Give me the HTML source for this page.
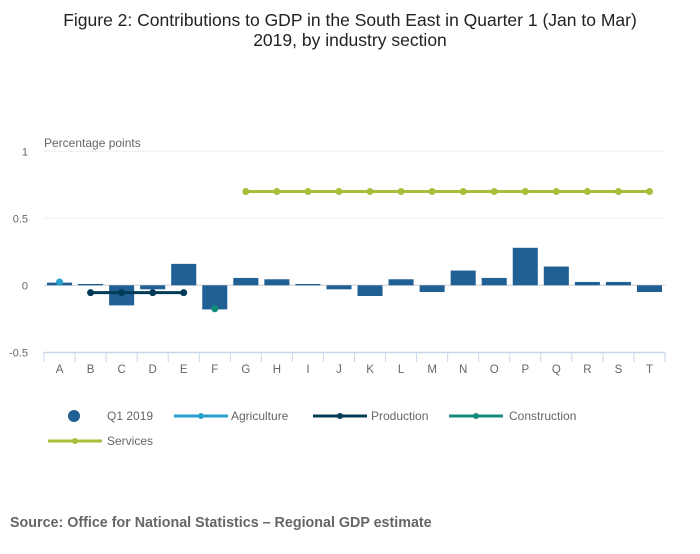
<!DOCTYPE html>
<html><head><meta charset="utf-8"><style>
body{margin:0;background:#fff;font-family:"Liberation Sans",sans-serif}
svg text{font-family:"Liberation Sans",sans-serif}
</style></head><body>
<svg id="chart" width="700" height="549" xmlns="http://www.w3.org/2000/svg">
<text x="350" y="26" text-anchor="middle" font-size="17.5" fill="#222">Figure 2: Contributions to GDP in the South East in Quarter 1 (Jan to Mar)</text>
<text x="350" y="46" text-anchor="middle" font-size="17.5" fill="#222">2019, by industry section</text>
<text x="44" y="147" font-size="12" fill="#666">Percentage points</text>
<g id="grid"></g><g id="bars"></g><g id="lines"></g><g id="xaxis"></g>
<g font-size="12" fill="#666">
<circle cx="74" cy="416" r="6" fill="#206095"/>
<text x="107" y="420">Q1 2019</text>
<line x1="174" y1="416" x2="228" y2="416" stroke="#27a0cc" stroke-width="3"/><circle cx="201" cy="416" r="3" fill="#27a0cc"/>
<text x="231" y="420">Agriculture</text>
<line x1="313" y1="416" x2="367" y2="416" stroke="#003c57" stroke-width="3"/><circle cx="340" cy="416" r="3" fill="#003c57"/>
<text x="371" y="420">Production</text>
<line x1="449" y1="416" x2="503" y2="416" stroke="#118c7b" stroke-width="3"/><circle cx="476" cy="416" r="3" fill="#118c7b"/>
<text x="509" y="420">Construction</text>
<line x1="48" y1="441" x2="102" y2="441" stroke="#a8bd3a" stroke-width="3"/><circle cx="75" cy="441" r="3" fill="#a8bd3a"/>
<text x="107" y="445">Services</text>
</g>
<text x="10" y="527" font-size="14.3" font-weight="bold" fill="#666">Source: Office for National Statistics – Regional GDP estimate</text>
</svg>
<script>
const categories=["A","B","C","D","E","F","G","H","I","J","K","L","M","N","O","P","Q","R","S","T"];
const q1Values=[0.02,0.01,-0.15,-0.03,0.16,-0.18,0.055,0.045,0.01,-0.03,-0.08,0.045,-0.05,0.11,0.055,0.28,0.14,0.025,0.025,-0.05];
const agricultureValues=[0.025];
const agricultureCats=["A"];
const productionValues=[-0.055,-0.055,-0.055,-0.055];
const productionCats=["B","C","D","E"];
const constructionValues=[-0.175];
const constructionCats=["F"];
const servicesValues=[0.7,0.7,0.7,0.7,0.7,0.7,0.7,0.7,0.7,0.7,0.7,0.7,0.7,0.7];
const servicesCats=["G","H","I","J","K","L","M","N","O","P","Q","R","S","T"];
const yTicks=[1,0.5,0,-0.5];
const yTickLabels=["1","0.5","0","-0.5"];
const NS="http://www.w3.org/2000/svg";
const x0=44,x1=665,bw=(x1-x0)/categories.length;
const y=v=>285.3-v*134;
const xc=c=>x0+bw*(categories.indexOf(c)+0.5);
function mk(t,a,p){const e=document.createElementNS(NS,t);for(const k in a)e.setAttribute(k,a[k]);p.appendChild(e);return e;}
const grid=document.getElementById('grid');
yTicks.forEach((t,i)=>{
 if(t!==-0.5){const l=mk('line',{x1:x0,x2:x1,y1:y(t),y2:y(t),stroke:t===0?'#ddd':'#eee','stroke-width':t===0?1.5:1},grid);
 
 }
 const tx=mk('text',{x:28,y:y(t)+4,'text-anchor':'end','font-size':11,fill:'#666'},grid);tx.textContent=yTickLabels[i];
 
 
});
const bars=document.getElementById('bars');
q1Values.forEach((v,i)=>{
 const r=mk('rect',{x:x0+bw*i+3,width:bw-6,y:Math.min(y(v),y(0)),height:Math.abs(y(v)-y(0)),fill:'#206095'},bars);
 
 
});
const lines=document.getElementById('lines');
function series(cats,vals,col,name){
 if(cats.length>1){const p=mk('polyline',{points:cats.map((c,i)=>xc(c)+','+y(vals[i])).join(' '),fill:'none',stroke:col,'stroke-width':3},lines);
 
 }
 cats.forEach((c,i)=>{const d=mk('circle',{cx:xc(c),cy:y(vals[i]),r:3.5,fill:col},lines);
 
 });
}
series(agricultureCats,agricultureValues,'#27a0cc','agriculture');
series(productionCats,productionValues,'#003c57','production');
series(constructionCats,constructionValues,'#118c7b','construction');
series(servicesCats,servicesValues,'#a8bd3a','services');
const xa=document.getElementById('xaxis');
const al=mk('line',{x1:x0,x2:x1,y1:352.5,y2:352.5,stroke:'#c9d6ea','stroke-width':1.5},xa);


for(let i=0;i<=categories.length;i++){mk('line',{x1:x0+bw*i,x2:x0+bw*i,y1:352,y2:362,stroke:'#c9d6ea'},xa);}
categories.forEach(c=>{const t=mk('text',{x:xc(c),y:373,'text-anchor':'middle','font-size':11.5,fill:'#666'},xa);t.textContent=c;
 
 });
</script>
</body></html>
